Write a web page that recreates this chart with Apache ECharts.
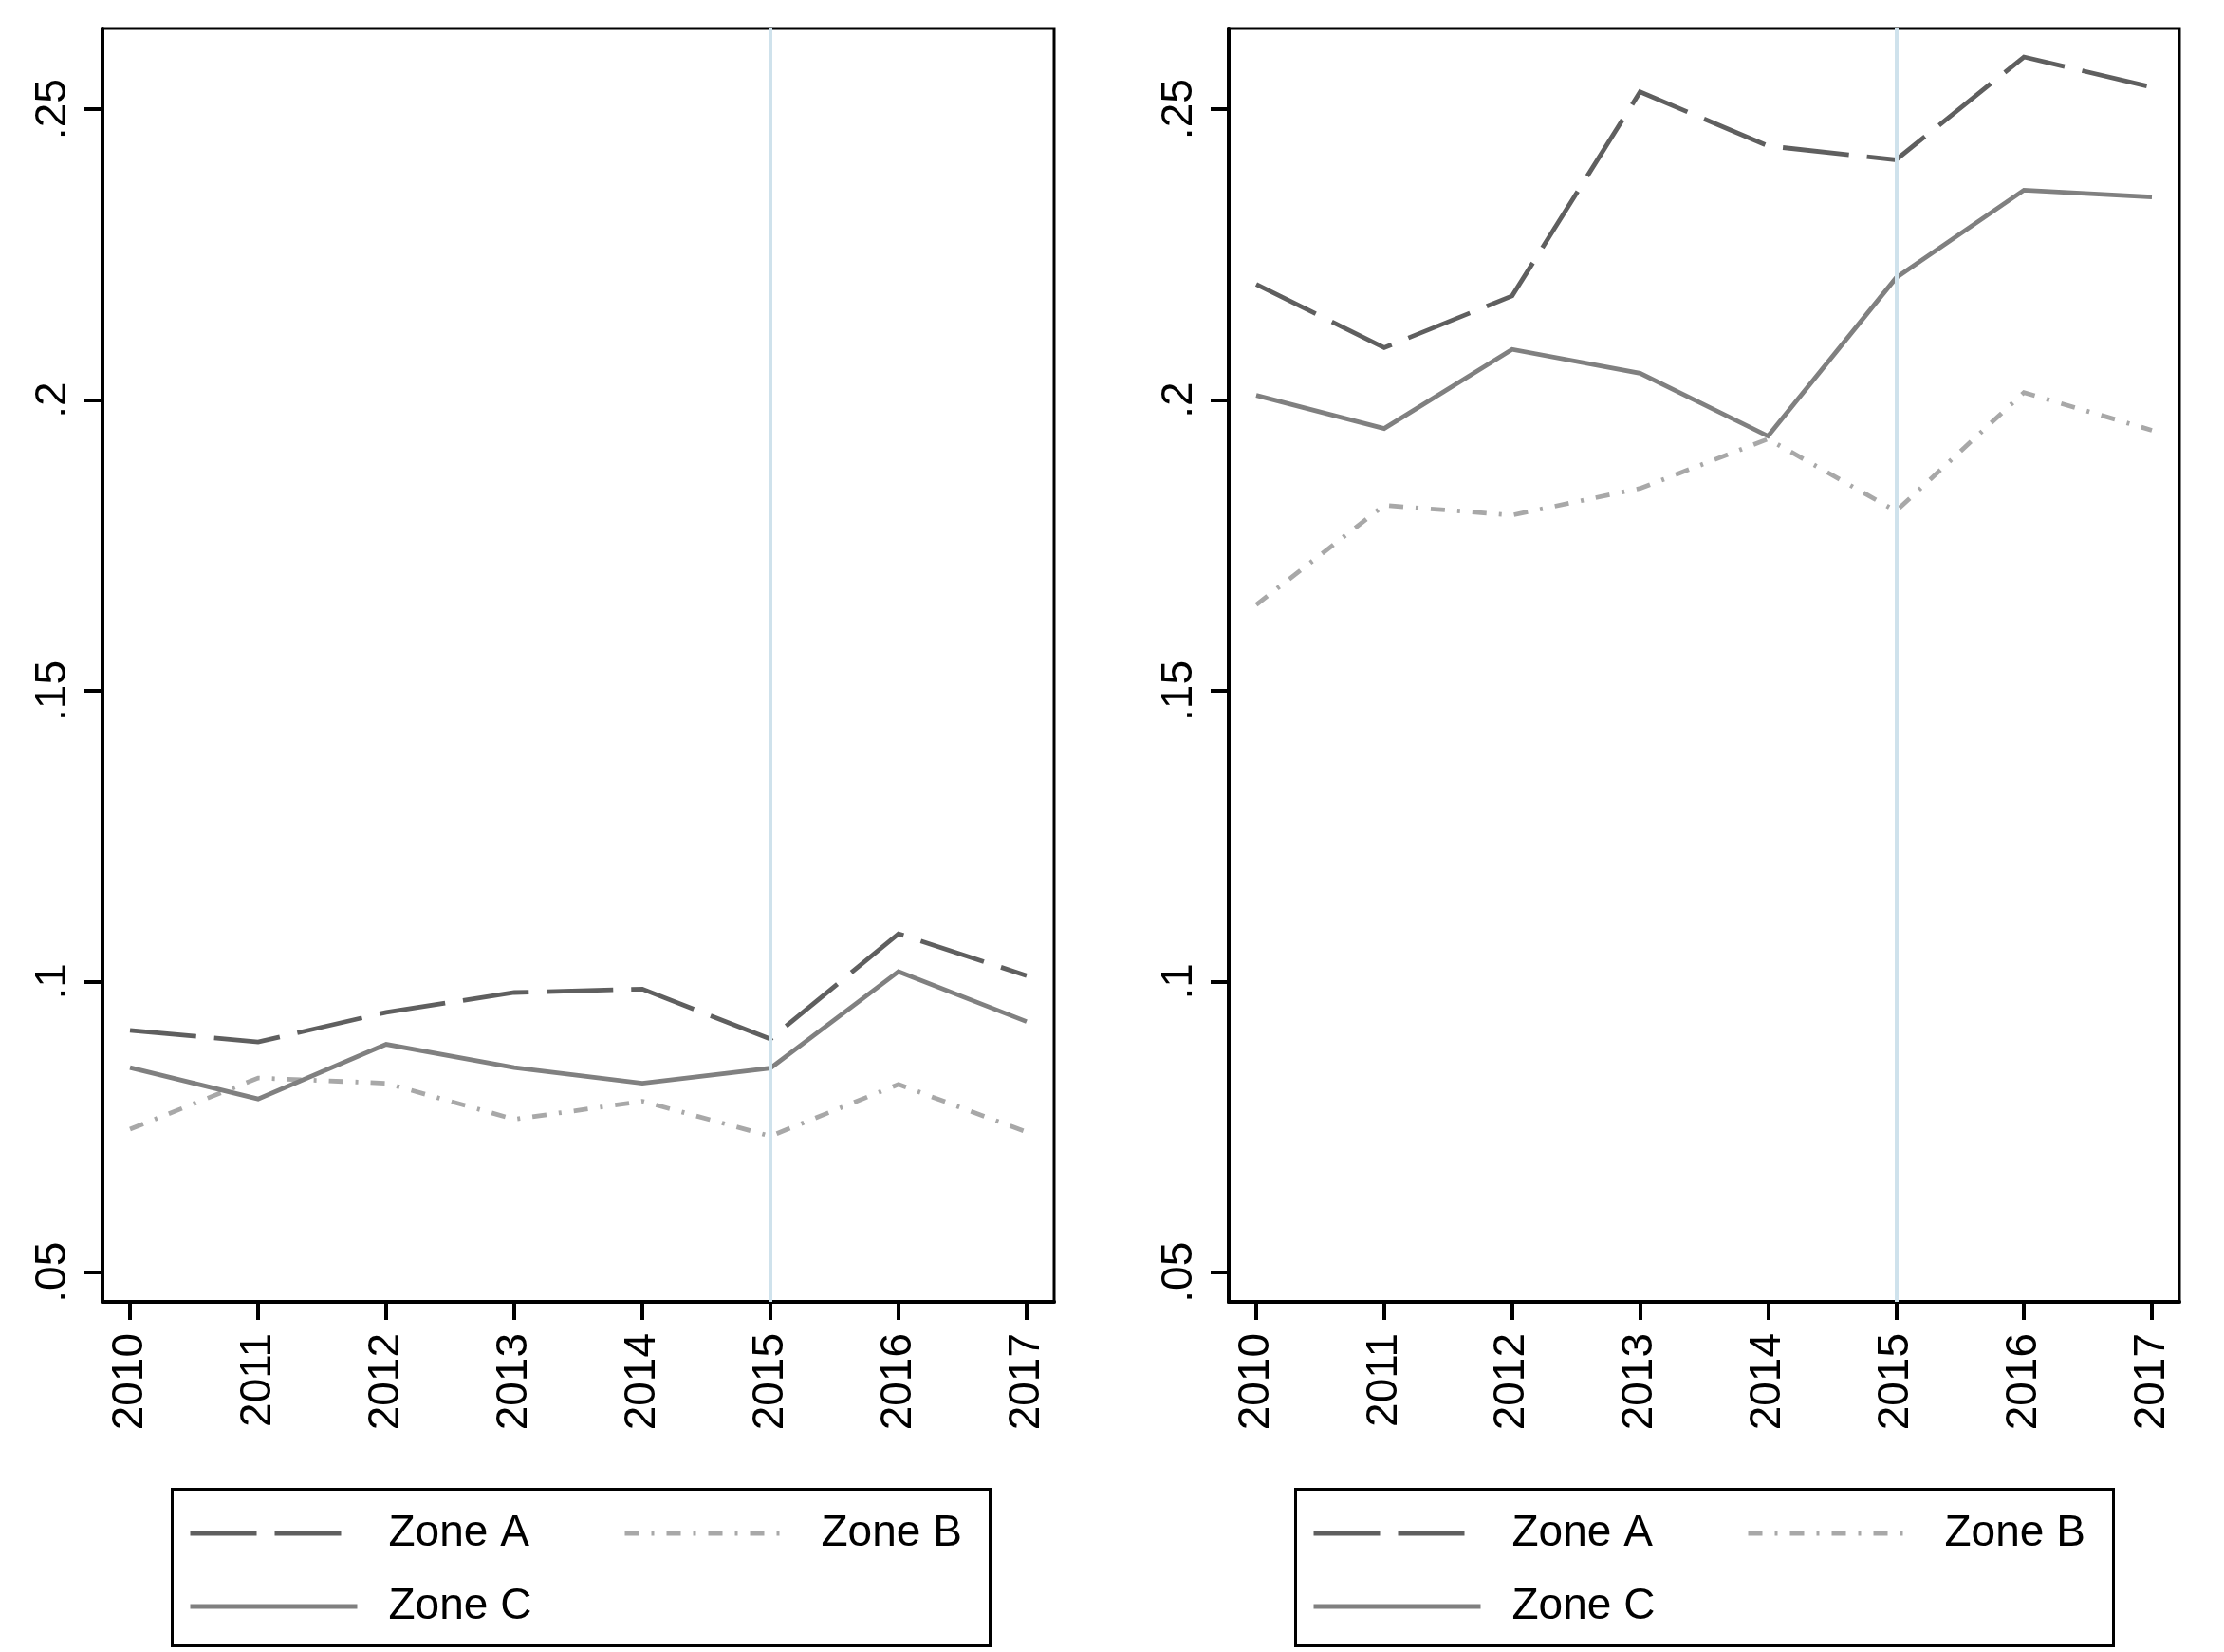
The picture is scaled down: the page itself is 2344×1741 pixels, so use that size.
<!DOCTYPE html>
<html>
<head>
<meta charset="utf-8">
<script src="https://cdn.jsdelivr.net/npm/echarts@6/dist/echarts.min.js"></script>
<style>
html,body{margin:0;padding:0;background:#fff;}
#chart{width:2344px;height:1741px;}
</style>
</head>
<body>
<div id="chart"></div>
<script>
// ---- data ----
var years = [2010, 2011, 2012, 2013, 2014, 2015, 2016, 2017];
var seriesNames = ['Zone A', 'Zone B', 'Zone C'];
// left panel
var leftZoneA = [0.0916, 0.0896, 0.0947, 0.0981, 0.0987, 0.0901, 0.1082, 0.1010];
var leftZoneB = [0.0746, 0.0834, 0.0825, 0.0763, 0.0794, 0.0734, 0.0823, 0.0741];
var leftZoneC = [0.0852, 0.0798, 0.0892, 0.0852, 0.0825, 0.0851, 0.1017, 0.0931];
// right panel
var rightZoneA = [0.2199, 0.2090, 0.2179, 0.2530, 0.2437, 0.2413, 0.2590, 0.2538];
var rightZoneB = [0.1648, 0.1819, 0.1802, 0.1848, 0.1933, 0.1809, 0.2013, 0.1948];
var rightZoneC = [0.2008, 0.1951, 0.2087, 0.2046, 0.1938, 0.2210, 0.2361, 0.2349];
var yTickValues = [0.05, 0.1, 0.15, 0.2, 0.25];
var yTickLabels = ['.05', '.1', '.15', '.2', '.25'];
var xTickLabels = ['2010', '2011', '2012', '2013', '2014', '2015', '2016', '2017'];
var eventYear = 2015;

// ---- styles ----
var FONT = "'Liberation Sans', Arial, Helvetica, sans-serif";
var styles = {
  'Zone A': {color: '#5f5f5f', width: 4.8, type: [70, 19]},
  'Zone B': {color: '#a8a8a8', width: 4.8, type: [15, 13, 3, 13]},
  'Zone C': {color: '#808080', width: 4.8, type: 'solid'}
};

function pairs(vals) {
  return years.map(function (y, i) { return [y, vals[i]]; });
}

var grids = [
  {left: 108, top: 30, width: 1003, height: 1342},
  {left: 1295, top: 30, width: 1002, height: 1342}
];

var xAxes = [], yAxes = [], series = [];
grids.forEach(function (g, gi) {
  xAxes.push({
    type: 'value', gridIndex: gi, min: 2009.785, max: 2017.215,
    axisLine: {show: true, onZero: false, lineStyle: {color: '#000', width: 4}},
    axisTick: {show: true, length: 19, lineStyle: {color: '#000', width: 4}, customValues: years},
    axisLabel: {
      show: true, rotate: 90, margin: 33, fontSize: 46, color: '#000', fontFamily: FONT,
      customValues: years,
      formatter: function (v) { var i = years.indexOf(Math.round(v)); return i >= 0 ? xTickLabels[i] : ''; }
    },
    splitLine: {show: false}
  });
  yAxes.push({
    type: 'value', gridIndex: gi, min: 0.0449, max: 0.2639,
    axisLine: {show: true, lineStyle: {color: '#000', width: 4}},
    axisTick: {show: true, length: 19, lineStyle: {color: '#000', width: 4}, customValues: yTickValues},
    axisLabel: {
      show: true, rotate: 90, margin: 29, fontSize: 46, color: '#000', fontFamily: FONT,
      customValues: yTickValues,
      formatter: function (v) {
        for (var i = 0; i < yTickValues.length; i++) { if (Math.abs(v - yTickValues[i]) < 1e-6) return yTickLabels[i]; }
        return '';
      }
    },
    splitLine: {show: false}
  });
  // vertical reference line
  series.push({
    type: 'line', name: 'ref' + gi, xAxisIndex: gi, yAxisIndex: gi, data: [], z: 1, silent: true,
    markLine: {
      silent: true, symbol: ['none', 'none'], label: {show: false},
      lineStyle: {color: '#cfe2ec', width: 4, type: 'solid'},
      data: [{xAxis: eventYear}], animation: false
    }
  });
});

function addSeries(gi, name, vals) {
  var s = styles[name];
  series.push({
    type: 'line', name: name, xAxisIndex: gi, yAxisIndex: gi, data: pairs(vals),
    symbol: 'none', showSymbol: false, z: 3,
    lineStyle: {color: s.color, width: s.width, type: s.type, cap: 'butt', join: 'miter'},
    itemStyle: {color: s.color},
    animation: false
  });
}
addSeries(0, 'Zone A', leftZoneA);
addSeries(0, 'Zone B', leftZoneB);
addSeries(0, 'Zone C', leftZoneC);
addSeries(1, 'Zone A', rightZoneA);
addSeries(1, 'Zone B', rightZoneB);
addSeries(1, 'Zone C', rightZoneC);

// legends: one component per entry, two panels
var legendItems = [
  {name: 'Zone A', dx: 198, cy: 1603, w: 162, pad: 42},
  {name: 'Zone B', dx: 656, cy: 1603, w: 165, pad: 37},
  {name: 'Zone C', dx: 198, cy: 1680, w: 176, pad: 28}
];
var legendOffsets = [0, 1184];
var legends = [];
legendOffsets.forEach(function (off) {
  legendItems.forEach(function (it) {
    var s = styles[it.name];
    legends.push({
      data: [it.name], left: it.dx + off, top: it.cy - 10, padding: 0,
      itemWidth: it.w, itemHeight: 20, selectedMode: false,
      itemStyle: {opacity: 0, borderWidth: 0},
      lineStyle: {color: s.color, width: 5, type: s.type, cap: 'butt', opacity: 1},
      textStyle: {fontSize: 46, color: '#000', fontFamily: FONT, padding: [0, 0, 0, it.pad]}
    });
  });
});

var graphics = legendOffsets.map(function (off) {
  return {
    type: 'rect', left: 179 + off, top: 1567, z: 0,
    shape: {width: 862, height: 165},
    style: {fill: 'none', stroke: '#000', lineWidth: 3}
  };
});

var chart = echarts.init(document.getElementById('chart'), null, {renderer: 'canvas'});
chart.setOption({
  backgroundColor: '#fff',
  animation: false,
  grid: grids.map(function (g) {
    return {left: g.left, top: g.top, width: g.width, height: g.height, show: true,
      borderColor: '#000', borderWidth: 3, backgroundColor: 'transparent'};
  }),
  xAxis: xAxes,
  yAxis: yAxes,
  legend: legends,
  graphic: graphics,
  series: series
});
</script>
</body>
</html>
